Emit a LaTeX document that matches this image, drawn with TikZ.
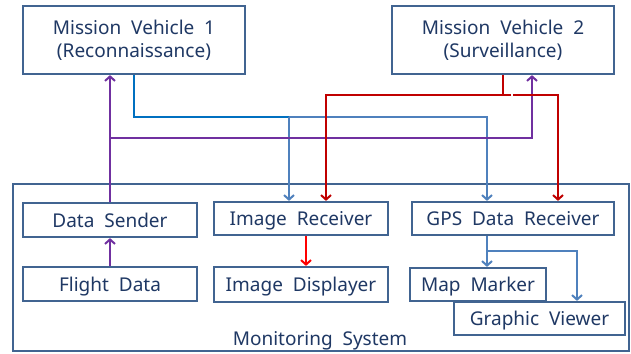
\documentclass[tikz,border=0pt]{standalone}
\usepackage{fontspec}
\setmainfont[WordSpace=2]{Noto Sans}
\usetikzlibrary{arrows.meta}
\definecolor{boxc}{RGB}{65,100,145}
\definecolor{txtc}{RGB}{31,56,100}
\definecolor{purp}{RGB}{112,48,160}
\definecolor{dred}{RGB}{192,0,0}
\definecolor{bred}{RGB}{255,0,0}
\definecolor{dblue}{RGB}{0,112,192}
\definecolor{lblue}{RGB}{79,129,189}
\begin{document}
\begin{tikzpicture}[x=1pt,y=-1pt,
  box/.style={draw=boxc, line width=2.2pt, fill=white, text=txtc, inner sep=0pt,
    font=\fontsize{19}{23}\selectfont, align=center},
  onebox/.style={box, text height=18pt, text depth=4pt},
  conn/.style={line width=2pt, -{Straight Barb[length=4.5pt,width=10pt]}},
  plain/.style={line width=2pt}]
\useasboundingbox (0,0) rectangle (631,353);
% boxes
\node[box, minimum width=616pt, minimum height=167pt] (mon) at (321,267.5) {};
\node[text=txtc, font=\fontsize{19}{23}\selectfont, inner sep=0pt, text height=18pt, text depth=4pt] (monl) at (320,338) {Monitoring System};
\node[box, minimum width=222pt, minimum height=68pt] (mv1) at (134,40) {Mission Vehicle 1\\(Reconnaissance)};
\node[box, minimum width=222pt, minimum height=68pt] (mv2) at (503,40) {Mission Vehicle 2\\(Surveillance)};
\node[onebox, minimum width=174pt, minimum height=34pt] (ds) at (110,220) {Data Sender};
\node[onebox, minimum width=174pt, minimum height=34pt] (fd) at (110,284) {Flight Data};
\node[onebox, minimum width=174pt, minimum height=33pt] (ir) at (301,218.5) {Image Receiver};
\node[onebox, minimum width=174pt, minimum height=35pt] (id) at (301,284.5) {Image Displayer};
\node[onebox, minimum width=202pt, minimum height=33pt] (gps) at (513,218.5) {GPS Data Receiver};
\node[onebox, minimum width=136pt, minimum height=33pt] (mm) at (478,284.5) {Map Marker};
\node[onebox, minimum width=171pt, minimum height=33pt] (gv) at (539.5,318.5) {Graphic Viewer};
% junction coordinates
\coordinate (bj1) at (134,117);
\coordinate (bj2) at (289,117);
\coordinate (bj3) at (487,117);
\coordinate (pj1) at (110,138);
\coordinate (pj2) at (532,138);
\coordinate (rj0) at (503,95);
\coordinate (rj1) at (326,95);
\coordinate (rj2) at (558,95);
\coordinate (rg) at (512,95);
\coordinate (gj1) at (487,251);
\coordinate (gj2) at (577,251);
% blue connectors
\draw[plain, dblue] (mv1.south) -- (bj1) -- (bj2);
\draw[conn, lblue] (bj2) -- (bj2 |- ir.north);
\draw[conn, lblue] (bj2) -- (bj3) -- (bj3 |- gps.north);
% purple connectors
\draw[conn, purp] (fd.north) -- (ds.south);
\draw[conn, purp] (ds.north) -- (ds.north |- mv1.south);
\draw[conn, purp] (pj1) -- (pj2) -- (pj2 |- mv2.south);
% red connectors
\draw[plain, dred] (mv2.south) -- (rj0);
\draw[conn, dred] ([xshift=-1pt]rg) -- (rj1) -- (rj1 |- ir.north);
\draw[conn, dred] ([xshift=1pt]rg) -- (rj2) -- (rj2 |- gps.north);
\draw[purp, line width=2pt] (pj2) -- ([yshift=-6pt]pj2 |- rj0);
\draw[conn, bred] ([xshift=5pt]ir.south) -- ([xshift=5pt]id.north);
% gps outputs
\draw[conn, lblue] (gps.south -| gj1) -- (gj1 |- mm.north);
\draw[conn, lblue] (gj1) -- (gj2) -- (gj2 |- gv.north);
\end{tikzpicture}
\end{document}
